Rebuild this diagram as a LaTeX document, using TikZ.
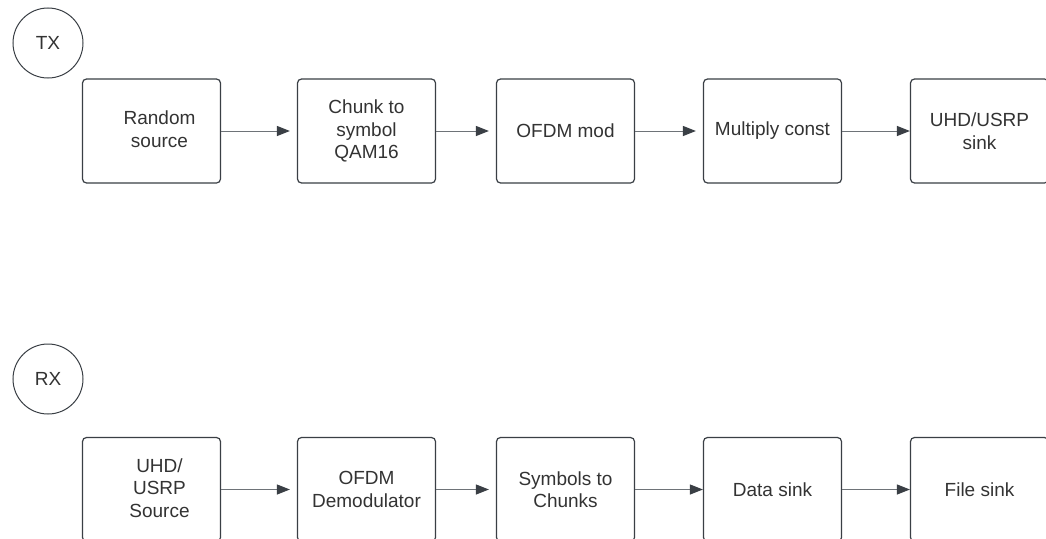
\documentclass[tikz,border=0pt]{standalone}
\usepackage{fontspec}
\setmainfont{Liberation Sans}
\usetikzlibrary{arrows.meta}
\definecolor{edge}{HTML}{3A3F45}
\definecolor{wire}{HTML}{6E7378}
\definecolor{ink}{HTML}{333333}
\begin{document}
\begin{tikzpicture}[x=1pt,y=-1pt,
  block/.style={draw=edge, line width=1.2pt, rounded corners=4pt,
    minimum width=138pt, minimum height=104pt, inner sep=0pt},
  lbl/.style={font=\fontsize{19}{22.5}\selectfont, text=ink, align=center},
  tag/.style={circle, draw=edge, line width=1pt, minimum size=70pt, inner sep=0pt,
    font=\fontsize{19}{22.5}\selectfont, text=ink},
  flow/.style={draw=wire, line width=1pt,
    -{Triangle[length=13pt,width=10pt,color=edge,fill=edge]}},
  gap/.style={shorten >=7pt}]
\useasboundingbox (0,0) rectangle (1046,538);
\clip (0,0) rectangle (1046,538);
\fill[white] (0,0) rectangle (1046,538);

% transmitter chain
\node[tag] (tx) at (48,43) {TX};
\node[block] (t1) at (151.5,131) {};
\node[lbl] (t1l) at (159.5,129) {Random\\source};
\node[block, lbl] (t2) at (366.5,131) {Chunk to\\symbol\\QAM16};
\node[block, lbl] (t3) at (565.5,131) {OFDM mod};
\node[block, lbl] (t4) at (772.5,131) {Multiply const};
\node[block, lbl] (t5) at (979.5,131) {UHD/USRP\\sink};

\draw[flow, gap] (t1.east) -- (t2.west);
\draw[flow, gap] (t2.east) -- (t3.west);
\draw[flow, gap] (t3.east) -- (t4.west);
\draw[flow] (t4.east) -- (t5.west);

% receiver chain
\node[tag] (rx) at (48,379) {RX};
\node[block] (r1) at (151.5,489.5) {};
\node[lbl] (r1l) at (159.5,488) {UHD/\\USRP\\Source};
\node[block, lbl] (r2) at (366.5,489.5) {OFDM\\Demodulator};
\node[block, lbl] (r3) at (565.5,489.5) {Symbols to\\Chunks};
\node[block, lbl] (r4) at (772.5,489.5) {Data sink};
\node[block, lbl] (r5) at (979.5,489.5) {File sink};

\draw[flow, gap] (r1.east) -- (r2.west);
\draw[flow, gap] (r2.east) -- (r3.west);
\draw[flow] (r3.east) -- (r4.west);
\draw[flow] (r4.east) -- (r5.west);
\end{tikzpicture}
\end{document}
